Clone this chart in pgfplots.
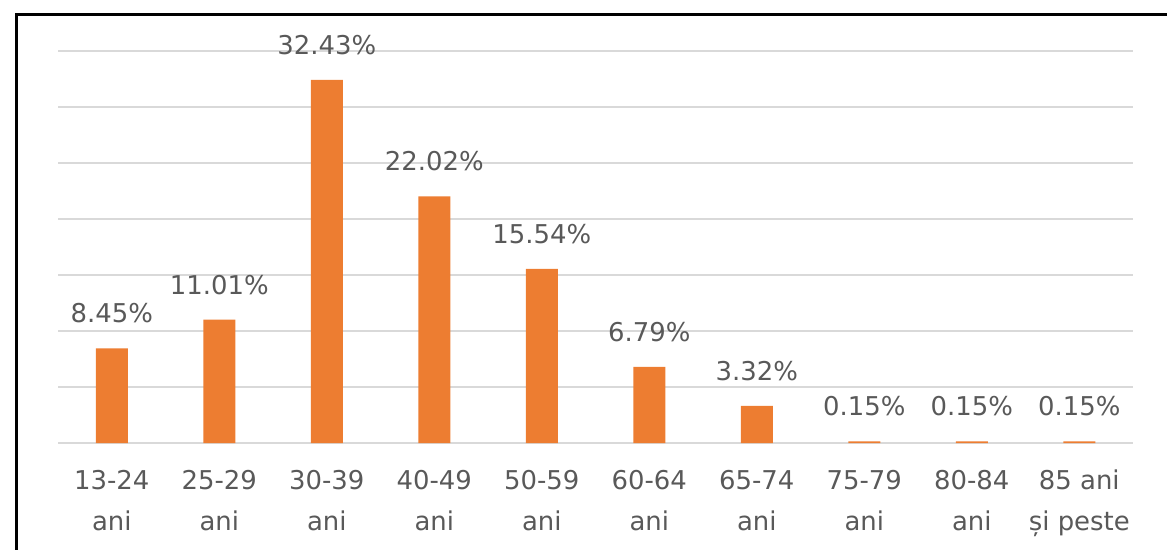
\documentclass[border=0pt]{standalone}
\usepackage{fontspec}
\setmainfont{DejaVu Sans}
\usepackage{pgfplots}
\pgfplotsset{compat=1.18}
\definecolor{barorange}{HTML}{ED7D31}
\definecolor{txtgray}{HTML}{595959}
\definecolor{gridgray}{HTML}{D9D9D9}
\begin{document}
\begin{tikzpicture}
\useasboundingbox (0,0) rectangle (1167bp,550bp);
\begin{axis}[
  at={(58bp,107bp)}, anchor=south west,
  scale only axis, width=1075bp, height=392bp,
  xmin=-0.5, xmax=9.5, ymin=0, ymax=35,
  xtick={0,...,9},
  xticklabels={{13-24\\ani},{25-29\\ani},{30-39\\ani},{40-49\\ani},{50-59\\ani},{60-64\\ani},{65-74\\ani},{75-79\\ani},{80-84\\ani},{85 ani\\și peste}},
  ytick={0,5,...,35}, yticklabels={},
  major tick length=0pt,
  axis line style={draw=none},
  ymajorgrids, major grid style={draw=gridgray, line width=2bp},
  x tick label style={font=\fontsize{26}{41}\selectfont, text=txtgray, align=center, anchor=north, inner sep=0pt, yshift=-27bp},
  ybar, bar width=32bp,
  nodes near coords={\pgfmathprintnumber[fixed,fixed zerofill,precision=2,assume math mode=true]{\pgfplotspointmeta}\%},
  every node near coord/.append style={font=\fontsize{26}{30}\selectfont, text=txtgray, anchor=south, inner sep=0pt, yshift=25bp},
  clip=false,
]
\addplot[fill=barorange, draw=none] coordinates {
(0,8.45) (1,11.01) (2,32.43) (3,22.02) (4,15.54) (5,6.79) (6,3.32) (7,0.15) (8,0.15) (9,0.15)};
\end{axis}
\draw[line width=3bp] (16bp,-30bp) rectangle (1200bp,535bp);
\end{tikzpicture}
\end{document}
